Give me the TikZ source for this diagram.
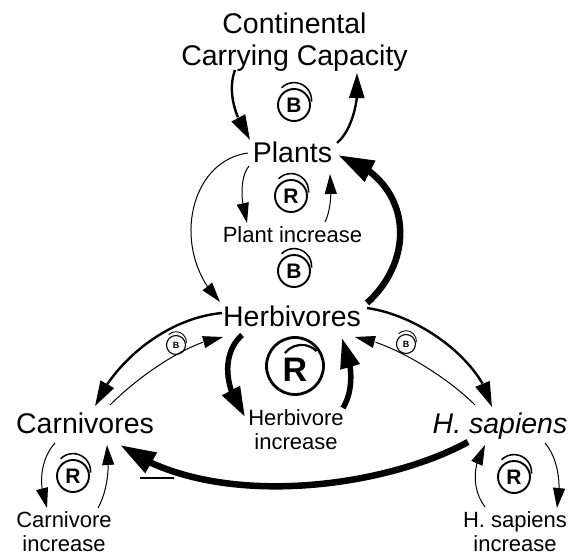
\documentclass[tikz,border=0pt]{standalone}
\usepackage{fontspec}
\setmainfont{Liberation Sans}
\usetikzlibrary{arrows.meta,bending,calc}
\tikzset{
  big/.style={font=\fontsize{28.5}{32}\selectfont, inner sep=0pt, outer sep=0pt, align=center},
  small/.style={font=\fontsize{22}{24}\selectfont, inner sep=0pt, outer sep=0pt, align=center},
  thinarr/.style={line width=1pt, -{Triangle[length=20pt, width=12pt]}},
  medarr/.style={line width=2.4pt, -{Triangle[length=25pt, width=15pt]}},
  thickarr/.style={line width=5.5pt, -{Triangle[length=30pt, width=19pt]}},
  vthickarr/.style={line width=6.5pt, -{Triangle[length=36pt, width=22pt]}},
  pics/loopsym/.style n args={4}{code={
      \begin{scope}[yscale=-1]
        \draw[line width=#4] (0,0) circle[radius=#1];
        \draw[line width=0.8*#4] (0,0.3*#1) ++(135:1.1*#1) arc[start angle=135, end angle=-5, radius=1.1*#1];
      \end{scope}
      \node[font=\fontsize{#3}{#3}\selectfont\bfseries, inner sep=0pt] (-l) at (0,0) {#2};
  }},
  pics/bigloop/.style n args={3}{code={
      \begin{scope}[yscale=-1]
        \draw[line width=2.8pt] (0,0) circle[radius=#1];
        \draw[line width=2.2pt] (0.23*#1,0) ++(142:0.74*#1) arc[start angle=142, end angle=45, radius=0.74*#1];
      \end{scope}
      \node[font=\fontsize{#3}{#3}\selectfont\bfseries, inner sep=0pt] (-l) at (0,0.12*#1) {#2};
  }},
}
\begin{document}
\begin{tikzpicture}[x=1pt,y=-1pt]
\fill[white] (0,0) rectangle (574,556);
\useasboundingbox (0,0) rectangle (574,556);

% text nodes
\node[big, anchor=south] (cont) at (294.5,71) {Continental\\Carrying Capacity};
\node[big, anchor=base] (plants) at (292.5,163) {Plants};
\node[small, anchor=base] (plinc) at (292.5,243) {Plant increase};
\node[big, anchor=base] (herb) at (292,327) {Herbivores};
\node[small, anchor=south] (hinc) at (296,450) {Herbivore\\increase};
\node[big, anchor=base] (carn) at (85,434) {Carnivores};
\node[small, anchor=south] (cinc) at (64,552) {Carnivore\\increase};
\node[big, anchor=base, font=\fontsize{28.5}{32}\selectfont\itshape] (hsap) at (500,434) {H. sapiens};
\node[small, anchor=south] (hsinc) at (515,552) {H. sapiens\\increase};

% loop symbols
\pic (s1) at (294,105) {loopsym={16}{B}{21}{1.9pt}};
\pic (s2) at (291,196) {loopsym={16}{R}{21}{1.9pt}};
\pic (s3) at (294,271) {loopsym={16}{B}{21}{1.9pt}};
\pic (s4) at (295,366) {bigloop={28.5}{R}{34}};
\pic (s5) at (176,345) {loopsym={9.5}{B}{9}{1.1pt}};
\pic (s6) at (406,344) {loopsym={9.5}{B}{9}{1.1pt}};
\pic (s7) at (73,476) {loopsym={16}{R}{21}{1.9pt}};
\pic (s8) at (514,477) {loopsym={16}{R}{21}{1.9pt}};

% connectors
\draw[medarr] ($(cont.south)+(-59.5,-1)$) .. controls +(-9,25) and +(-12,-18) .. ($(plants.base)+(-42.5,-23)$);
\draw[medarr] ($(plants.base)+(44.5,-20)$) .. controls +(15,-13) and +(3,27) .. ($(cont.south)+(62.5,2)$);
\draw[thinarr] ($(plants.base)+(-43.5,3)$) .. controls +(-10,12) and +(-6,-18) .. ($(plinc.base)+(-45.5,-20)$);
\draw[thinarr] ($(plinc.base)+(32.5,-21)$) .. controls +(6,-12) and +(2,16) .. ($(plants.base)+(37.5,11)$);
\draw[thinarr] ($(plants.base)+(-44.5,-10)$) .. controls +(-60,8) and +(-50,-50) .. ($(herb.base)+(-72,-25)$);
\draw[vthickarr] ($(herb.base)+(75,-24)$) .. controls +(50,-45) and +(75,25) .. ($(plants.base)+(45.5,-8)$);
\draw[medarr] ($(herb.base)+(-70,-14)$) .. controls +(-55,5) and +(20,-45) .. ($(carn.base)+(10,-28)$);
\draw[thinarr] ($(carn.base)+(25,-29)$) .. controls +(30,-30) and +(-35,5) .. ($(herb.base)+(-69,10)$);
\draw[medarr] ($(herb.base)+(75,-19)$) .. controls +(55,8) and +(-10,-45) .. ($(hsap.base)+(-8,-27)$);
\draw[thinarr] ($(hsap.base)+(-25,-29)$) .. controls +(-30,-30) and +(35,5) .. ($(herb.base)+(63,10)$);
\draw[thickarr] ($(herb.base)+(-50,8)$) .. controls +(-20,18) and +(-22,-30) .. ($(hinc.south)+(-51,-33)$);
\draw[thickarr] ($(hinc.south)+(47,-42)$) .. controls +(12,-20) and +(10,22) .. ($(herb.base)+(50,11)$);
\draw[vthickarr] ($(hsap.base)+(-32,8)$) .. controls +(-88,48) and +(90,65) .. ($(carn.base)+(35,11)$);
\draw[thinarr] ($(carn.base)+(-30,9)$) .. controls +(-15,17) and +(-9,-23) .. ($(cinc.south)+(-17,-44)$);
\draw[thinarr] ($(cinc.south)+(34,-44)$) .. controls +(10,-18) and +(3,20) .. ($(carn.base)+(22,11)$);
\draw[thinarr] ($(hsap.base)+(45,9)$) .. controls +(13,15) and +(5,-23) .. ($(hsinc.south)+(42,-44)$);
\draw[thinarr] ($(hsinc.south)+(-30,-45)$) .. controls +(-13,-17) and +(-13,20) .. ($(hsap.base)+(-15,11)$);

% minus sign
\draw[line width=2pt] ($(carn.base)+(55,44)$) -- ++(34,0);
\end{tikzpicture}
\end{document}
